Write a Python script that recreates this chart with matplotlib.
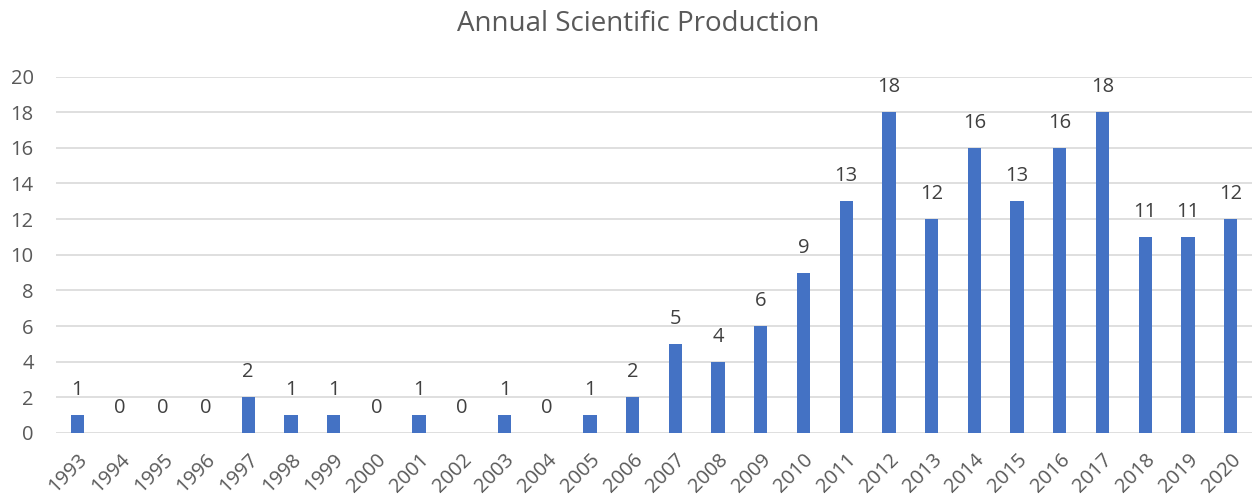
import matplotlib.pyplot as plt
import matplotlib as mpl

mpl.rcParams['font.family'] = ['Open Sans', 'DejaVu Sans']

years = [str(y) for y in range(1993, 2021)]
articles = [1, 0, 0, 0, 2, 1, 1, 0, 1, 0, 1, 0, 1, 2, 5, 4, 6, 9,
            13, 18, 12, 16, 13, 16, 18, 11, 11, 12]

text_color = '#595959'

fig = plt.figure(figsize=(12.52, 4.97), dpi=100)
ax = fig.add_axes([56 / 1252, 1 - 433 / 497, 1196 / 1252, 356.5 / 497])

x = range(len(years))
ax.bar(x, articles, width=0.31, color='#4472C4', zorder=3)

for xi, v in zip(x, articles):
    ax.annotate(str(v), (xi, v), xytext=(0, 18), textcoords='offset points',
                ha='center', va='center', fontsize=14.5, color='#404040')

ax.set_xlim(-0.5, len(years) - 0.5)
ax.set_ylim(0, 20)
ax.set_yticks(range(0, 21, 2))
ax.set_xticks(list(x))
ax.set_xticklabels(years, rotation=45, ha='right', rotation_mode='anchor')
ax.tick_params(axis='both', length=0, labelsize=14.5, colors=text_color)
ax.tick_params(axis='x', pad=12)
ax.tick_params(axis='y', pad=16)

ax.grid(axis='y', color='#D9D9D9', linewidth=1.2, zorder=0)
for s in ax.spines.values():
    s.set_visible(False)

fig.text(0.5 + 12 / 1252, 1 - 24 / 497, 'Annual Scientific Production', ha='center',
         va='center', fontsize=20, color=text_color)

fig.savefig('out.png', dpi=100)
